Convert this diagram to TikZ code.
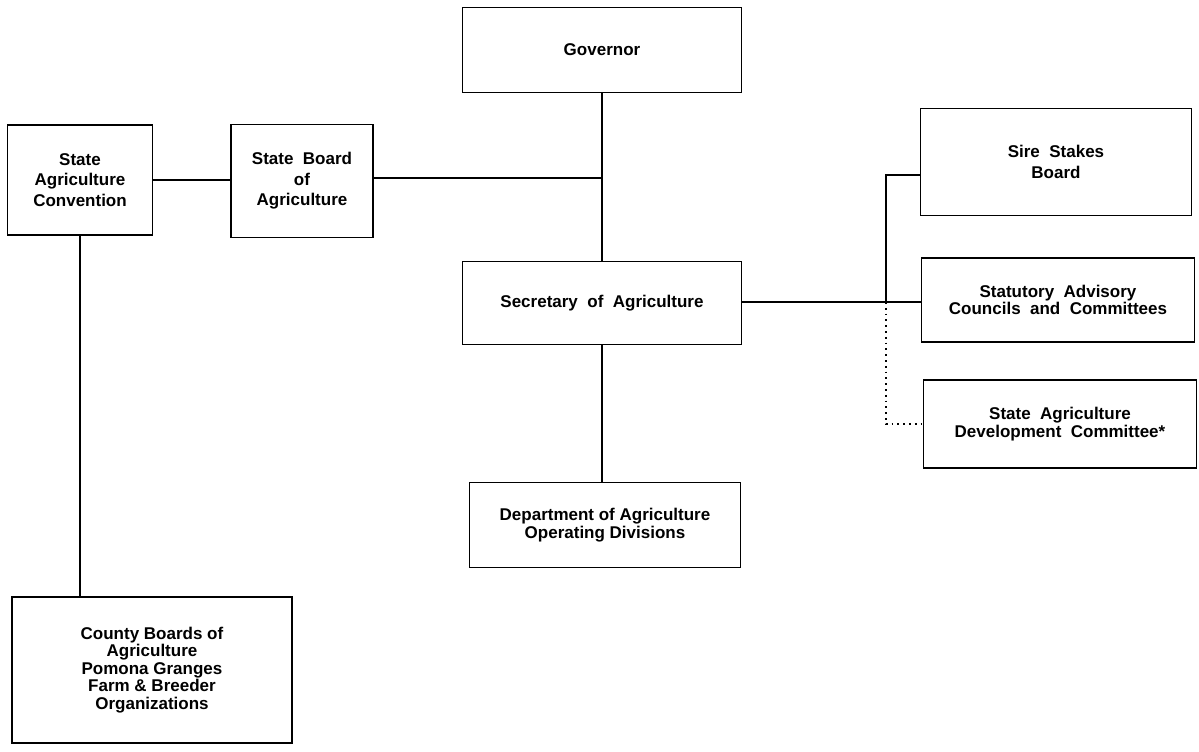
\documentclass[tikz,border=0pt]{standalone}
\usepackage{fontspec}
\setmainfont{Liberation Sans}
\tikzset{x=0.5pt, y=-0.5pt,
    office/.style={draw, line width=0.9pt, align=center, inner sep=2pt,
        font=\fontsize{8.5}{8.8}\selectfont\bfseries},
    link/.style={line width=0.9pt},
    staff/.style={line width=0.9pt, dotted},
    }

\begin{document}
\begin{tikzpicture}
\useasboundingbox (0,0) rectangle (1199,751);
% top of the chart
\node[office, minimum width=139.5pt, minimum height=42.5pt] (gov) at (602,50) {Governor};
\node[office, minimum width=72.5pt, minimum height=55pt] (conv) at (80,180) {State\\[1.5pt]Agriculture\\[1.5pt]Convention};
\node[office, minimum width=71pt, minimum height=56.5pt] (board) at (302,181) {State~~Board\\[1.5pt]of\\[1.5pt]Agriculture};
\node[office, minimum width=139.5pt, minimum height=41.5pt] (sec) at (602,303) {Secretary~~of~~Agriculture};
\node[office, minimum width=135.5pt, minimum height=42.5pt] (ops) at (605,525) {Department of Agriculture\\Operating Divisions};
\node[office, minimum width=140pt, minimum height=73pt] (county) at (152,670)
    {County Boards of\\Agriculture\\Pomona Granges\\Farm \& Breeder\\Organizations};
% boards on the right
\node[office, minimum width=135.5pt, minimum height=53.5pt] (sire) at (1056,162) {Sire~~Stakes\\[1.5pt]Board};
\node[office, minimum width=136.5pt, minimum height=42pt] (council) at (1058,300) {Statutory~~Advisory\\Councils~~and~~Committees};
\node[office, minimum width=136.5pt, minimum height=44pt] (sadc) at (1060,424) {State~~Agriculture\\Development~~Committee*};

\coordinate (join) at (602,178);
\coordinate (fork) at (886,302);

\draw[link] (gov.south) -- (sec.north);
\draw[link] (sec.south) -- (sec.south |- ops.north);
\draw[link] (conv.east) -- (conv.east -| board.west);
\draw[link] (board.east |- join) -- (join);
\draw[link] (conv.south) -- (county.north -| conv.south);
\draw[link] (sec.east |- fork) -- (fork) -- (fork -| council.west);
\draw[link] (fork) |- ([yshift=-6.5pt]sire.west);
\draw[staff] (fork) |- (sadc.west);
\end{tikzpicture}
\end{document}
